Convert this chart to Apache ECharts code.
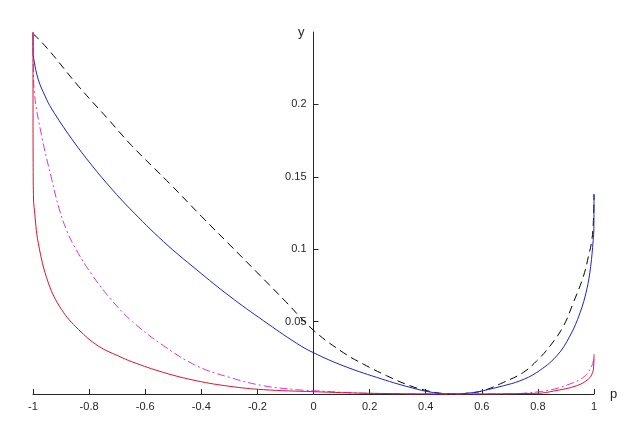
<!DOCTYPE html>
<html>
<head>
<meta charset="utf-8">
<script src="https://cdn.jsdelivr.net/npm/echarts@6/dist/echarts.min.js"></script>
<style>
html,body{margin:0;padding:0;background:#fff;}
#chart{width:635px;height:430px;}
</style>
</head>
<body>
<div id="chart"></div>
<script>
// x tick values
const xTicks = [-1, -0.8, -0.6, -0.4, -0.2, 0, 0.2, 0.4, 0.6, 0.8, 1];
const yTicks = [0.05, 0.1, 0.15, 0.2];

// Black dashed curve
const blackP = [-1, -0.945, -0.838, -0.732, -0.648, -0.512, -0.4, -0.298, -0.2, -0.1, 0, 0.106, 0.178, 0.261, 0.344, 0.404, 0.45, 0.5, 0.55, 0.605, 0.677, 0.748, 0.796, 0.843, 0.891, 0.926, 0.962, 0.98, 0.992, 0.998, 1];
const blackY = [0.249, 0.2378, 0.2126, 0.1898, 0.1715, 0.1452, 0.1228, 0.1029, 0.0837, 0.064, 0.044, 0.0286, 0.0206, 0.0126, 0.0057, 0.0023, 0.0006, 0, 0.0006, 0.0023, 0.008, 0.0149, 0.0229, 0.0331, 0.0469, 0.0629, 0.0811, 0.0949, 0.106, 0.12, 0.138];

// Blue solid curve
const blueP = [-1, -0.9995, -0.997, -0.981, -0.957, -0.933, -0.862, -0.791, -0.719, -0.654, -0.535, -0.416, -0.298, -0.179, -0.06, 0, 0.106, 0.225, 0.344, 0.427, 0.5, 0.57, 0.605, 0.677, 0.736, 0.796, 0.867, 0.914, 0.95, 0.974, 0.988, 0.997, 0.9995, 1];
const blueY = [0.249, 0.236, 0.231, 0.217, 0.2058, 0.1968, 0.1762, 0.1581, 0.1415, 0.1279, 0.1053, 0.0857, 0.0674, 0.0507, 0.035, 0.0285, 0.0195, 0.0115, 0.0046, 0.001, 0, 0.001, 0.0023, 0.0057, 0.0091, 0.0149, 0.0263, 0.04, 0.056, 0.072, 0.088, 0.106, 0.114, 0.138];

// Magenta dash-dot curve
const magentaP = [-1, -0.999, -0.995, -0.969, -0.933, -0.907, -0.88, -0.85, -0.791, -0.719, -0.645, -0.535, -0.416, -0.298, -0.179, -0.06, 0, 0.1, 0.2, 0.3, 0.5, 0.7, 0.8, 0.86, 0.914, 0.95, 0.974, 0.992, 0.998, 1];
const magentaY = [0.25, 0.228, 0.208, 0.178, 0.148, 0.128, 0.113, 0.101, 0.0827, 0.0647, 0.0499, 0.0334, 0.0194, 0.0114, 0.0057, 0.003, 0.0023, 0.0012, 0.0004, 0.0001, 0, 0.0001, 0.0015, 0.0035, 0.0069, 0.01, 0.0137, 0.0194, 0.023, 0.026];

// Red solid curve
const redP = [-1, -0.9999, -0.9995, -0.998, -0.995, -0.981, -0.945, -0.898, -0.838, -0.767, -0.696, -0.645, -0.535, -0.416, -0.298, -0.179, 0, 0.2, 0.5, 0.8, 0.855, 0.938, 0.98, 0.995, 0.999, 1];
const redY = [0.25, 0.2, 0.16, 0.134, 0.127, 0.104, 0.0766, 0.0583, 0.0446, 0.0331, 0.0263, 0.0221, 0.0149, 0.0091, 0.0053, 0.003, 0.0016, 0.0005, 0, 0.0005, 0.002, 0.0057, 0.0103, 0.0149, 0.02, 0.0274];

const pair = (xs, ys) => xs.map((x, i) => [x, ys[i]]);

const chart = echarts.init(document.getElementById('chart'), null, {renderer: 'canvas'});
const axisColor = '#262626';
const font = 'Liberation Sans, Arial, sans-serif';
const plotW = 635 - 33 - 41;

chart.setOption({
  animation: false,
  backgroundColor: '#ffffff',
  grid: {left: 33, right: 41, top: 32, bottom: 36, containLabel: false},
  xAxis: {
    type: 'value', min: -1, max: 1, interval: 0.2,
    name: 'p', nameLocation: 'end', nameGap: 16,
    nameTextStyle: {color: axisColor, fontSize: 13, fontFamily: font, verticalAlign: 'middle', padding: [0, 0, 13, 0]},
    axisLine: {show: true, onZero: false, lineStyle: {color: axisColor, width: 1}},
    axisTick: {show: true, inside: true, length: 5, lineStyle: {color: axisColor}},
    axisLabel: {color: axisColor, fontSize: 11, fontFamily: font, margin: 7,
      formatter: v => { const r = Math.round(v * 10) / 10; return xTicks.includes(r) ? String(r) : ''; }},
    splitLine: {show: false}
  },
  yAxis: {
    type: 'value', min: 0, max: 0.25, interval: 0.05,
    position: 'left', offset: -plotW / 2,
    name: 'y', nameLocation: 'end', nameGap: 0,
    nameTextStyle: {color: axisColor, fontSize: 13, fontFamily: font, align: 'right', verticalAlign: 'middle', padding: [0, 9, 14, 0]},
    axisLine: {show: true, onZero: false, lineStyle: {color: axisColor, width: 1}},
    axisTick: {show: true, inside: true, length: 5, lineStyle: {color: axisColor}},
    axisLabel: {color: axisColor, fontSize: 11, fontFamily: font, margin: 7, showMinLabel: false, showMaxLabel: false,
      formatter: v => { const r = Math.round(v * 100) / 100; return yTicks.includes(r) ? String(r) : ''; }},
    splitLine: {show: false}
  },
  series: [
    {type: 'line', data: pair(blackP, blackY), showSymbol: false, smooth: 0.4,
     lineStyle: {color: '#000000', width: 1, type: [8, 5]}, z: 2},
    {type: 'line', data: pair(blueP, blueY), showSymbol: false, smooth: 0.4,
     lineStyle: {color: '#1f1fd0', width: 1}, z: 3},
    {type: 'line', data: pair(magentaP, magentaY), showSymbol: false, smooth: 0.4,
     lineStyle: {color: '#dd33dd', width: 1, type: [8, 3, 2, 3]}, z: 4},
    {type: 'line', data: pair(redP, redY), showSymbol: false, smooth: 0.4,
     lineStyle: {color: '#dd1133', width: 1}, z: 5}
  ]
});
</script>
</body>
</html>
